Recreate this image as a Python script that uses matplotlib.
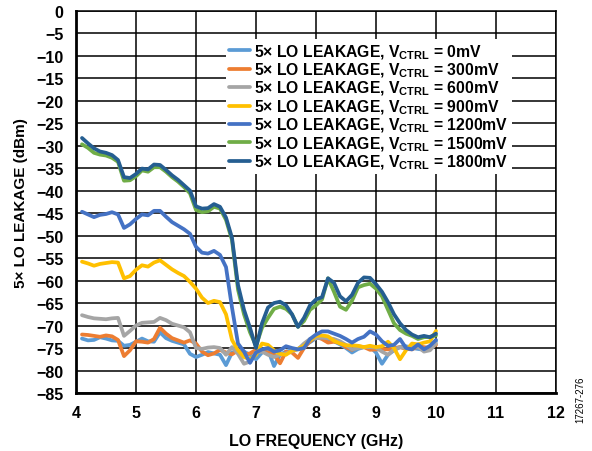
import numpy as np
import matplotlib
matplotlib.use("Agg")
from matplotlib import pyplot as plt

plt.rcParams['font.family'] = ['Liberation Sans', 'DejaVu Sans']
plt.rcParams['font.weight'] = 'bold'
plt.rcParams['mathtext.fontset'] = 'custom'
plt.rcParams['mathtext.rm'] = 'Liberation Sans:bold'
plt.rcParams['mathtext.bf'] = 'Liberation Sans:bold'
plt.rcParams['mathtext.default'] = 'bf'

freq = np.round(np.arange(4.1, 10.05, 0.1), 1)  # GHz, 4.1 .. 10.0

leak_0 = [-72.9, -73.3, -73.2, -72.6, -72.9, -73.3, -73.4, -74.5, -74.3, -73.6,
          -72.9, -73.5, -73.6, -71.5, -72.8, -73.4, -73.8, -74.2, -76.3, -77.0,
          -76.5, -75.9, -76.2, -76.5, -78.8, -76.0, -75.8, -75.8, -76.5, -77.5,
          -76.0, -75.4, -79.0, -76.5, -75.8, -75.5, -75.2, -74.5, -73.7, -72.8,
          -72.7, -73.0, -73.5, -74.2, -75.0, -76.0, -75.2, -74.8, -74.7, -76.0,
          -78.5, -76.5, -75.5, -74.8, -74.6, -75.0, -75.2, -75.4, -74.8, -73.5]
leak_300 = [-72.0, -72.1, -72.3, -72.5, -72.2, -72.4, -73.2, -76.8, -75.5, -73.5,
            -73.6, -73.8, -73.0, -70.5, -71.8, -72.8, -73.3, -73.8, -73.3, -74.0,
            -75.8, -76.6, -76.2, -75.4, -76.0, -76.4, -75.5, -76.5, -76.2, -75.4,
            -75.7, -76.0, -76.3, -78.4, -75.8, -76.0, -77.2, -75.0, -73.5, -72.5,
            -73.0, -73.8, -73.6, -73.8, -74.8, -75.4, -74.6, -74.8, -75.4, -75.3,
            -75.2, -75.3, -75.0, -74.8, -75.2, -75.3, -74.6, -74.8, -75.0, -74.3]
leak_600 = [-67.7, -68.1, -68.4, -68.5, -68.6, -68.4, -68.3, -72.3, -71.2, -70.0,
            -69.4, -69.3, -69.2, -68.3, -68.8, -69.6, -70.0, -70.4, -71.5, -75.0,
            -75.2, -74.9, -74.8, -75.0, -76.5, -74.8, -76.3, -78.5, -78.0, -76.0,
            -75.8, -76.5, -77.0, -76.5, -76.2, -75.7, -75.3, -74.0, -73.0, -72.8,
            -72.7, -72.8, -73.0, -73.5, -74.3, -75.3, -75.0, -74.8, -74.8, -74.9,
            -75.8, -76.5, -75.3, -74.8, -75.0, -74.8, -74.7, -75.8, -75.5, -74.0]
leak_900 = [-55.8, -56.2, -56.7, -56.3, -56.1, -55.9, -56.0, -59.5, -59.0, -57.6,
            -56.6, -56.9, -56.0, -55.5, -56.5, -57.5, -58.3, -59.0, -60.3, -61.8,
            -63.8, -65.0, -64.5, -64.8, -67.5, -73.2, -75.5, -77.0, -77.5, -76.5,
            -74.0, -74.3, -75.5, -76.3, -76.5, -75.6, -75.2, -74.5, -73.3, -72.3,
            -72.2, -72.4, -73.4, -74.0, -74.4, -74.4, -74.5, -74.8, -74.5, -74.8,
            -74.6, -73.6, -75.0, -77.5, -75.5, -74.0, -74.2, -73.8, -73.5, -71.2]
leak_1200 = [-44.7, -45.3, -45.9, -45.4, -45.2, -44.8, -45.3, -48.3, -47.5, -46.3,
             -45.3, -45.5, -44.5, -44.5, -45.8, -47.0, -47.8, -48.6, -49.6, -52.5,
             -53.8, -54.0, -53.4, -54.3, -57.0, -66.0, -74.0, -75.8, -78.3, -76.0,
             -75.3, -75.0, -75.8, -75.5, -74.6, -75.0, -75.3, -75.0, -73.0, -72.0,
             -71.3, -71.3, -71.8, -72.3, -73.0, -73.8, -73.0, -72.5, -71.3, -72.0,
             -73.5, -74.5, -74.3, -73.0, -75.0, -75.3, -74.2, -75.3, -74.5, -73.2]
leak_1500 = [-29.7, -30.5, -31.6, -32.0, -32.2, -32.7, -33.6, -37.8, -37.7, -36.8,
             -35.5, -35.8, -34.8, -34.8, -35.8, -37.0, -38.0, -39.2, -40.6, -44.3,
             -44.8, -44.6, -43.6, -44.0, -46.5, -51.0, -62.0, -67.5, -71.5, -74.5,
             -70.5, -68.3, -66.3, -65.8, -66.3, -67.5, -70.3, -69.0, -66.5, -65.5,
             -64.2, -59.5, -62.5, -65.8, -66.5, -64.5, -61.5, -61.0, -60.7, -61.8,
             -63.5, -66.5, -69.5, -71.0, -71.8, -72.3, -73.0, -72.6, -72.5, -72.2]
leak_1800 = [-28.3, -29.5, -30.6, -31.3, -31.6, -32.1, -33.2, -37.0, -37.2, -36.3,
             -35.1, -35.3, -34.2, -34.3, -35.4, -36.6, -37.6, -38.8, -40.0, -43.5,
             -44.0, -43.9, -43.0, -43.6, -46.0, -50.5, -61.0, -66.5, -70.5, -75.0,
             -69.5, -66.0, -65.0, -64.7, -65.5, -67.5, -70.3, -68.3, -65.5, -64.2,
             -63.7, -59.5, -60.5, -63.5, -64.6, -63.2, -60.5, -59.3, -59.4, -60.8,
             -62.5, -64.8, -67.5, -69.5, -71.0, -72.0, -72.6, -72.3, -72.6, -71.8]

vctrl = ['0mV', '300mV', '600mV', '900mV', '1200mV', '1500mV', '1800mV']
series = [leak_0, leak_300, leak_600, leak_900, leak_1200, leak_1500, leak_1800]
colors = ['#5B9BD5', '#ED7D31', '#A5A5A5', '#FFC000', '#4472C4', '#70AD47', '#255E91']

fig = plt.figure(figsize=(5.92, 4.52), dpi=100)
ax = fig.add_axes([76 / 592, 1 - 394 / 452, 480 / 592, (394 - 11.7) / 452])

for vals, lab, c in zip(series, vctrl, colors):
    ax.plot(freq, vals, color=c, lw=2.7, solid_joinstyle='round',
            solid_capstyle='round', label='5× LO LEAKAGE, V$_{CTRL}$ = ' + lab)

ax.set_xlim(4, 12)
ax.set_ylim(-85, 0)
ax.set_xticks(np.arange(4, 13, 1))
ax.set_yticks(np.arange(-85, 1, 5))
ax.grid(True, color='black', lw=1.1)
ax.set_axisbelow(True)
for side in ['top', 'right']:
    ax.spines[side].set_linewidth(1.1)
for side in ['left', 'bottom']:
    ax.spines[side].set_linewidth(2.0)
ax.tick_params(length=0, labelsize=11.5, pad=9)
for t in ax.get_xticklabels() + ax.get_yticklabels():
    t.set_fontweight('bold')

ax.set_xlabel('LO FREQUENCY (GHz)', fontsize=11.5, fontweight='bold', labelpad=9)
ax.set_ylabel('5× LO LEAKAGE (dBm)', fontsize=11, fontweight='bold', labelpad=6)

leg = ax.legend(loc='upper left', bbox_to_anchor=(226 / 592, 1 - 40 / 452),
                bbox_transform=fig.transFigure, fontsize=11.3, frameon=True,
                fancybox=False, edgecolor='none', facecolor='white', framealpha=1,
                handlelength=1.3, handletextpad=0.3, labelspacing=0.0,
                borderpad=0.2, borderaxespad=0)
for line in leg.get_lines():
    line.set_linewidth(2.7)

fig.text(580 / 592, 1 - 400 / 452, '17267-276', rotation=90, fontsize=7,
         fontweight='normal', ha='center', va='center')

fig.savefig('out.png', dpi=100)
